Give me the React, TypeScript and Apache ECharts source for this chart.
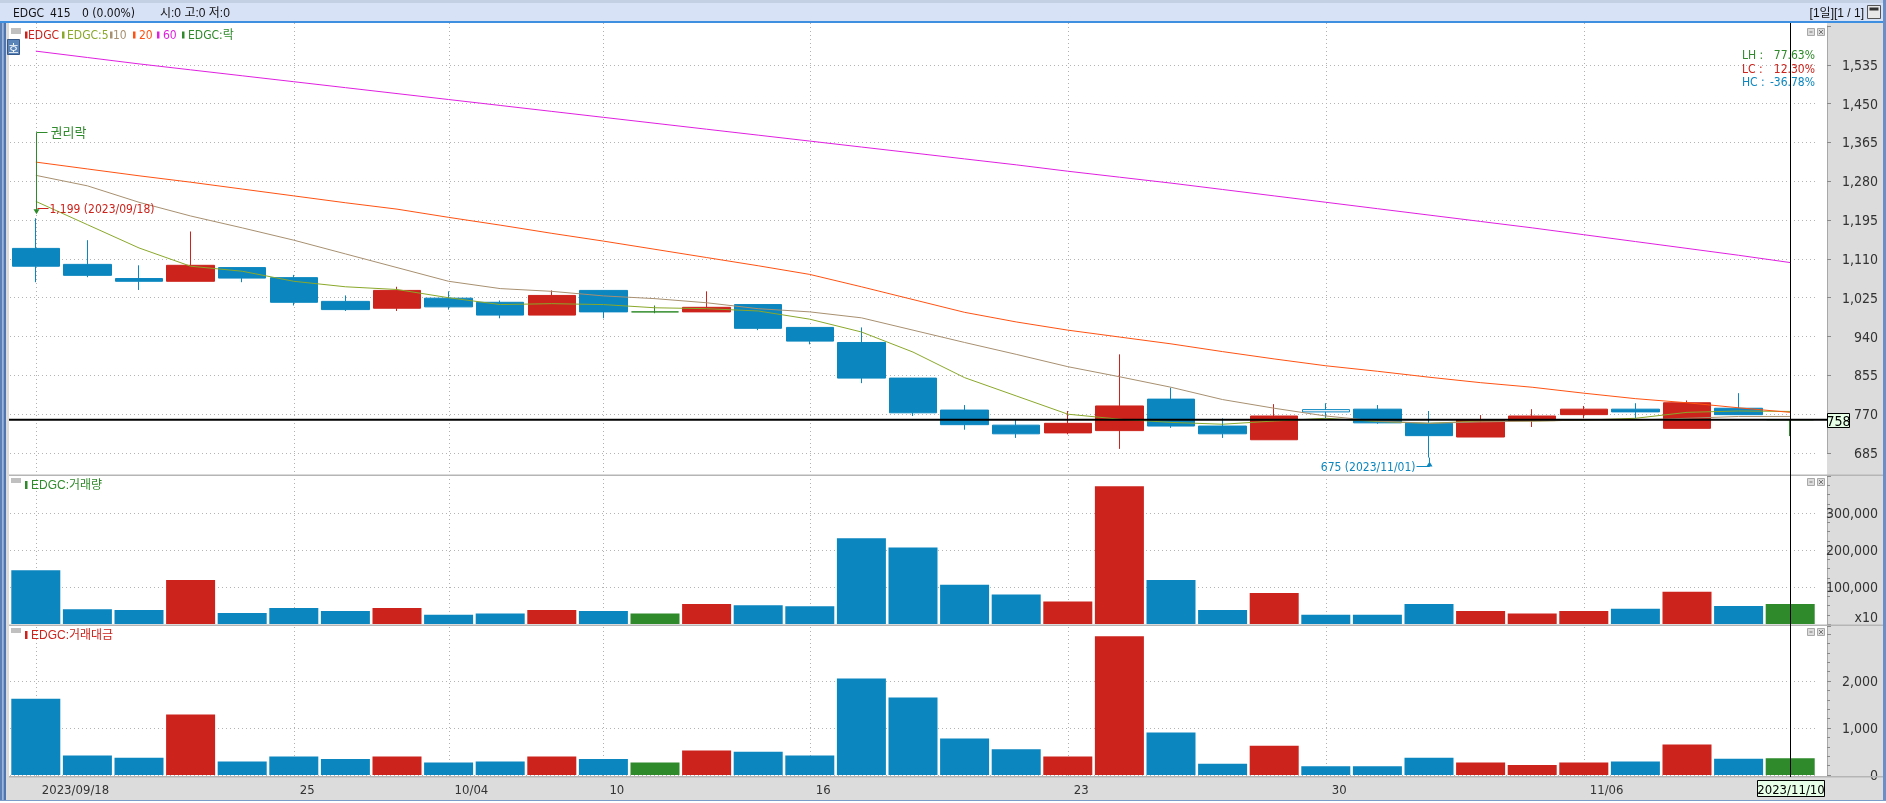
import React, { useEffect, useRef } from 'react';
import * as echarts from 'echarts';

// ---------------- data ----------------
const dates = [
  '2023/09/18', '2023/09/19', '2023/09/20', '2023/09/21', '2023/09/22',
  '2023/09/25', '2023/09/26', '2023/09/27',
  '2023/10/04', '2023/10/05', '2023/10/06',
  '2023/10/10', '2023/10/11', '2023/10/12', '2023/10/13',
  '2023/10/16', '2023/10/17', '2023/10/18', '2023/10/19', '2023/10/20',
  '2023/10/23', '2023/10/24', '2023/10/25', '2023/10/26', '2023/10/27',
  '2023/10/30', '2023/10/31', '2023/11/01', '2023/11/02', '2023/11/03',
  '2023/11/06', '2023/11/07', '2023/11/08', '2023/11/09', '2023/11/10',
];
const opens = [1133, 1098, 1067, 1061, 1091, 1069, 1017, 1002, 1024, 1015, 987, 1041, 994, 994, 1010, 960, 927, 849, 779, 746, 729, 734, 803, 744, 714, 780, 781, 750, 720, 756, 769, 781, 739, 783, 758];
const closes = [1094, 1074, 1061, 1096, 1068, 1015, 999, 1041, 1005, 987, 1030, 994, 994, 1004, 958, 930, 849, 773, 747, 727, 750, 788, 744, 727, 766, 775, 751, 723, 758, 766, 781, 775, 795, 769, 758];
const lows = [1059, 1070, 1042, 1061, 1059, 1008, 996, 996, 999, 980, 987, 980, 991, 994, 954, 923, 838, 766, 736, 718, 726, 694, 740, 718, 714, 761, 749, 675, 720, 742, 761, 761, 739, 769, 722];
const highs = [1199, 1151, 1096, 1170, 1091, 1075, 1030, 1049, 1039, 1019, 1041, 1041, 1008, 1039, 1010, 960, 960, 849, 790, 758, 777, 901, 828, 761, 792, 794, 790, 777, 768, 781, 788, 794, 800, 816, 758];

const ma5 = [1236, 1185, 1134, 1094, 1083, 1061, 1049, 1043, 1025, 1010, 1012, 1010, 1003, 1001, 996, 978, 950, 906, 850, 810, 770, 759, 752, 748, 755, 761, 754, 750, 755, 755, 757, 761, 774, 777, 776];
const ma10 = [1293, 1270, 1234, 1204, 1178, 1151, 1121, 1091, 1061, 1045, 1039, 1029, 1023, 1014, 1001, 994, 981, 954, 927, 901, 874, 852, 829, 802, 783, 766, 755, 750, 753, 755, 757, 757, 761, 765, 765];
const ma20 = [1322, 1307, 1292, 1278, 1263, 1248, 1233, 1219, 1201, 1184, 1166, 1149, 1131, 1113, 1095, 1076, 1049, 1021, 993, 972, 954, 939, 924, 907, 891, 876, 864, 851, 839, 829, 816, 804, 795, 784, 774];
const ma60 = [1565, 1551, 1537, 1524, 1511, 1498, 1485, 1472, 1459, 1446, 1433, 1420, 1407, 1394, 1381, 1368, 1355, 1342, 1329, 1316, 1302, 1289, 1276, 1262, 1248, 1234, 1220, 1206, 1192, 1178, 1163, 1148, 1133, 1118, 1102];

const volumes = [145500, 40000, 37700, 118600, 29600, 43000, 35000, 43000, 25000, 28500, 38000, 35000, 28500, 54000, 51000, 48000, 232000, 207000, 106000, 80000, 61000, 372000, 119000, 38000, 84000, 25000, 25000, 54000, 35000, 28500, 35000, 41500, 87000, 48500, 54000];
const amounts = [1621, 417, 366, 1287, 289, 391, 340, 391, 264, 289, 391, 340, 264, 521, 494, 417, 2055, 1647, 777, 547, 391, 2951, 904, 238, 623, 187, 187, 366, 264, 213, 264, 289, 649, 345, 355];

const tickDates = ['2023/09/18', '2023/09/25', '2023/10/04', '2023/10/10', '2023/10/16', '2023/10/23', '2023/10/30', '2023/11/06'];
const tickLabels = ['2023/09/18', '25', '10/04', '10', '16', '23', '30', '11/06'];
const hollowDates = ['2023/10/30'];
const exRightsDate = '2023/09/18';

// ---------------- styles ----------------
const RED = '#cc231c';
const BLUE = '#0b86bf';
const GREEN = '#2e8a2a';
const C_MA5 = '#8aa82a';
const C_MA10 = '#a89070';
const C_MA20 = '#ff5212';
const C_MA60 = '#e020e0';
const GRIDC = '#b4b4b4';
const FONT = "'Liberation Sans Narrow','DejaVu Sans Condensed','Liberation Sans','Noto Sans CJK KR',sans-serif";
const KFONT = "'Liberation Sans Narrow','Liberation Sans','Noto Sans CJK KR',sans-serif";

const W = 1886;
const H = 803;
const GL = 10;
const GR = 70;
const fmt = (v: number) => v.toLocaleString('en-US');

const dirColor = (i: number) => (closes[i] > opens[i] ? RED : closes[i] < opens[i] ? BLUE : GREEN);

function buildOption(): any {
  const candleData = dates.map((d, i) => {
    const item: any = { value: [opens[i], closes[i], lows[i], highs[i]] };
    if (hollowDates.includes(d)) {
      item.itemStyle = { color: '#ffffff', color0: '#ffffff', borderColor: BLUE, borderColor0: BLUE, borderColorDoji: BLUE };
    } else if (opens[i] === closes[i]) {
      item.itemStyle = { color: GREEN, color0: GREEN, borderColor: GREEN, borderColor0: GREEN, borderColorDoji: GREEN };
    }
    return item;
  });
  const yAxisBase = {
    position: 'right',
    offset: 11,
    axisLine: { show: true, lineStyle: { color: '#a8a8a8', width: 1 } },
    axisTick: { show: true, length: 4, lineStyle: { color: '#8a8a8a' } },
    axisLabel: { align: 'right', margin: 51, fontSize: 14, fontFamily: FONT, color: '#333' },
    splitLine: { show: true, lineStyle: { color: GRIDC, type: [1, 3], width: 1 } },
  };
  const xAxisBase = {
    type: 'category',
    data: dates,
    boundaryGap: true,
    axisLine: { show: false },
    axisTick: { show: false },
    axisLabel: { show: false },
    splitLine: { show: false },
  };
  const lineSeries = (name: string, data: number[], color: string) => ({
    name,
    type: 'line',
    xAxisIndex: 0,
    yAxisIndex: 0,
    data,
    symbol: 'none',
    showSymbol: false,
    lineStyle: { color, width: 1 },
    itemStyle: { color },
    z: 3,
    silent: true,
  });
  return {
    animation: false,
    backgroundColor: 'transparent',
    grid: [
      { left: GL, right: GR, top: 26, height: 427, outerBoundsMode: 'none', containLabel: false },
      { left: GL, right: GR, top: 476, height: 148, outerBoundsMode: 'none', containLabel: false },
      { left: GL, right: GR, top: 626, height: 149, outerBoundsMode: 'none', containLabel: false },
    ],
    xAxis: [
      { ...xAxisBase, gridIndex: 0 },
      { ...xAxisBase, gridIndex: 1 },
      {
        ...xAxisBase,
        gridIndex: 2,
        axisLabel: {
          show: true,
          interval: (_i: number, v: string) => tickDates.includes(v),
          formatter: (v: string) => {
            const k = tickDates.indexOf(v);
            return k >= 0 ? tickLabels[k] : '';
          },
          align: 'left',
          padding: [0, 0, 0, 6],
          margin: 8,
          fontSize: 13,
          fontFamily: FONT,
          color: '#333',
        },
      },
    ],
    yAxis: [
      {
        ...yAxisBase,
        type: 'value',
        gridIndex: 0,
        min: 685,
        max: 1620,
        interval: 85,
        splitLine: { show: true, showMaxLine: false, lineStyle: { color: GRIDC, type: [1, 3], width: 1 } },
        axisLabel: { ...yAxisBase.axisLabel, formatter: (v: number) => (v > 1600 ? '' : fmt(v)) },
      },
      {
        ...yAxisBase,
        type: 'value',
        gridIndex: 1,
        min: 0,
        max: 400000,
        interval: 100000,
        splitLine: { show: true, showMinLine: false, showMaxLine: false, lineStyle: { color: GRIDC, type: [1, 3], width: 1 } },
        minorTick: { show: true, splitNumber: 4, length: 3, lineStyle: { color: '#8a8a8a' } },
        axisLabel: { ...yAxisBase.axisLabel, formatter: (v: number) => (v <= 0 || v >= 400000 ? '' : fmt(v)) },
      },
      {
        ...yAxisBase,
        type: 'value',
        gridIndex: 2,
        min: 0,
        max: 3170,
        interval: 1000,
        splitLine: {
          show: true,
          showMinLine: true,
          showMaxLine: false,
          lineStyle: { color: [GRIDC, GRIDC, GRIDC, 'rgba(0,0,0,0)', 'rgba(0,0,0,0)'], type: [1, 3], width: 1 },
        },
        minorTick: { show: true, splitNumber: 5, length: 3, lineStyle: { color: '#8a8a8a' } },
        axisLabel: { ...yAxisBase.axisLabel, formatter: (v: number) => (v > 2000 ? '' : fmt(v)) },
      },
    ],
    series: [
      {
        name: 'EDGC',
        type: 'candlestick',
        xAxisIndex: 0,
        yAxisIndex: 0,
        data: candleData,
        barWidth: 48,
        clip: false,
        silent: true,
        itemStyle: { color: RED, color0: BLUE, borderColor: RED, borderColor0: BLUE, borderWidth: 1 },
        z: 2,
      },
      lineSeries('EDGC:5', ma5, C_MA5),
      lineSeries('10', ma10, C_MA10),
      lineSeries('20', ma20, C_MA20),
      lineSeries('60', ma60, C_MA60),
      {
        name: 'EDGC:거래량',
        type: 'bar',
        xAxisIndex: 1,
        yAxisIndex: 1,
        barWidth: 49,
        silent: true,
        data: volumes.map((v, i) => ({ value: v, itemStyle: { color: dirColor(i) } })),
      },
      {
        name: 'EDGC:거래대금',
        type: 'bar',
        xAxisIndex: 2,
        yAxisIndex: 2,
        barWidth: 49,
        silent: true,
        data: amounts.map((v, i) => ({ value: v, itemStyle: { color: dirColor(i) } })),
      },
    ],
  };
}

const rect = (x: number, y: number, w: number, h: number, fill: string, z = -10, stroke?: string) => ({
  type: 'rect',
  silent: true,
  z,
  shape: { x, y, width: w, height: h },
  style: stroke ? { fill, stroke, lineWidth: 1 } : { fill },
});
const line = (x1: number, y1: number, x2: number, y2: number, stroke: string, z = 40, dash?: number[], lw = 1) => ({
  type: 'line',
  silent: true,
  z,
  shape: { x1, y1, x2, y2 },
  style: dash ? { stroke, lineWidth: lw, lineDash: dash } : { stroke, lineWidth: lw },
});
const text = (x: number, y: number, t: string, fill: string, size = 12, align = 'left', family = FONT, z = 45) => ({
  type: 'text',
  silent: true,
  z,
  x,
  y,
  style: {
    text: t,
    fill,
    font: `${size}px ${family}`,
    align,
    textAlign: align,
    verticalAlign: 'middle',
    textVerticalAlign: 'middle',
  },
});
const tri = (pts: number[][], fill: string) => ({
  type: 'polygon',
  silent: true,
  z: 45,
  shape: { points: pts },
  style: { fill },
});

export default function App() {
  const ref = useRef<HTMLDivElement>(null);
  useEffect(() => {
    if (!ref.current) return;
    const chart = echarts.init(ref.current, null, { renderer: 'svg', width: W, height: H });
    chart.setOption(buildOption());

    const px = (g: number, i: number, v: number) => chart.convertToPixel({ gridIndex: g }, [i, v]) as number[];
    const els: any[] = [];

    // ---- chrome / backgrounds ----
    els.push(rect(0, 0, W, H, '#eeeeee', -20));
    els.push(rect(0, 0, W, 3, '#c3cfe2', -19));
    els.push(rect(0, 3, W, 19, '#d8e2f7', -19));
    els.push(rect(0, 21, W, 2, '#3f8fe0', -19));
    els.push(rect(0, 23, 2, 777, '#5b80b6', -19));
    els.push(rect(2, 23, 1.5, 777, '#9ab6de', -19));
    els.push(rect(3.5, 23, 2.5, 777, '#4f76b0', -19));
    els.push(rect(6, 23, 3, 777, '#dcdcdc', -19));
    els.push(rect(9, 23, 1818, 754, '#ffffff', -18));
    els.push(rect(1827, 23, 56, 777, '#dcdcdc', -18));
    els.push(rect(1883, 0, 3, H, '#6a8fc8', -17));
    els.push(rect(9, 777, 1818, 23, '#dcdcdc', -18));
    els.push(rect(0, 800, W, 3, '#ffffff', -17));
    els.push(rect(0, 800, W, 1, '#7a9cc8', -16));
    // pane separators
    els.push(rect(9, 474.5, 1874, 1.5, '#b5b5b5', 20));
    els.push(rect(9, 624.5, 1874, 1.5, '#b5b5b5', 20));
    els.push(rect(9, 776, 1874, 1.5, '#b5b5b5', 20));

    // title bar
    els.push(text(13, 12.5, 'EDGC', '#111', 12));
    els.push(text(50, 12.5, '415', '#111', 12));
    els.push(text(82, 12.5, '0 (0.00%)', '#111', 12));
    els.push(text(160, 12.5, '시:0 고:0 저:0', '#111', 12, 'left', KFONT));
    els.push(text(1864, 12.5, '[1일][1 / 1]', '#111', 12, 'right', KFONT));
    els.push(rect(1867.5, 5.5, 13, 13, '#e8e8e8', 30, '#555555'));
    els.push(rect(1869.5, 7.5, 9, 3, '#333333', 31));

    // legend (price pane)
    els.push(rect(11, 28, 10, 6, '#c0c0c0', 30));
    const leg: [number, number, string, string][] = [
      [25, 28, 'EDGC', RED],
      [62, 67, 'EDGC:5', C_MA5],
      [110, 113, '10', C_MA10],
      [133, 139, '20', C_MA20],
      [157, 163, '60', C_MA60],
      [182, 188, 'EDGC:락', GREEN],
    ];
    leg.forEach(([bx, tx, t, c]) => {
      els.push(rect(bx, 31.5, 2.5, 7, c, 30));
      els.push(text(tx, 35, t, c, 12));
    });
    // 호 button
    els.push(rect(7.5, 39.5, 12, 15, '#5b85b8', 30, '#34598a'));
    els.push(text(13.5, 47.5, '호', '#ffffff', 11, 'center', "'Noto Sans CJK KR',sans-serif", 31));

    // volume / amount legends
    els.push(rect(11, 478, 10, 5, '#c0c0c0', 30));
    els.push(rect(25, 481, 2.5, 8, GREEN, 30));
    els.push(text(31, 485, 'EDGC:거래량', GREEN, 12, 'left', KFONT));
    els.push(rect(11, 628, 10, 5, '#c0c0c0', 30));
    els.push(rect(25, 631, 2.5, 8, RED, 30));
    els.push(text(31, 635, 'EDGC:거래대금', RED, 12, 'left', KFONT));
    els.push(text(1878, 617, 'x10', '#333', 14, 'right'));

    // pane window icons
    [28.5, 478.5, 628.5].forEach((y) => {
      els.push(rect(1807.5, y, 7, 7, '#dcdcdc', 30, '#a8a8a8'));
      els.push(rect(1809.5, y + 3, 3, 1, '#777777', 31));
      els.push(rect(1817.5, y, 7, 7, '#dcdcdc', 30, '#a8a8a8'));
      els.push(line(1819, y + 1.5, 1823, y + 5.5, '#777777', 31));
      els.push(line(1823, y + 1.5, 1819, y + 5.5, '#777777', 31));
    });

    // vertical dotted grid lines at tick dates
    tickDates.forEach((d) => {
      const i = dates.indexOf(d);
      const x = Math.round(px(0, i, 1000)[0]) + 0.5;
      els.push(line(x, 23, x, 776, '#b0b0b0', -5, [1, 3]));
    });

    // crosshair at last bar / last close
    const last = dates.length - 1;
    const lastClose = closes[last];
    const [cx, cy] = px(0, last, lastClose);
    const xr = Math.round(cx) + 0.5;
    els.push(line(xr, 23, xr, 777, '#000000', 50));
    els.push(line(9, cy, 1827, cy, '#000000', 50, undefined, 2));
    const yr = Math.round(cy) + 0.5;
    els.push(rect(1827.5, yr - 7, 22, 14, '#e6ffe6', 60, '#000000'));
    els.push(text(1838.5, yr, String(lastClose), '#000', 14, 'center', FONT, 61));
    els.push(rect(xr - 33, 780.5, 67, 16, '#e6ffe6', 60, '#000000'));
    els.push(text(xr + 0.5, 789, dates[last], '#000', 13, 'center', FONT, 61));

    // high / low / ex-rights annotations
    let hiIdx = 0;
    let loIdx = 0;
    highs.forEach((v, i) => { if (v > highs[hiIdx]) hiIdx = i; });
    lows.forEach((v, i) => { if (v < lows[loIdx]) loIdx = i; });
    const maxH = highs[hiIdx];
    const minL = lows[loIdx];

    const exIdx = dates.indexOf(exRightsDate);
    const [exX0, exY0] = px(0, exIdx, highs[exIdx]);
    const exX = Math.round(exX0) + 0.5;
    const arrowB = exY0 - 4;
    const exTop = Math.round(arrowB - 82) + 0.5;
    els.push(line(exX, exTop, exX, arrowB - 4, GREEN, 46));
    els.push(line(exX, exTop, exX + 11, exTop, GREEN, 46));
    els.push(tri([[exX - 3, arrowB - 5], [exX + 3, arrowB - 5], [exX, arrowB]], GREEN));
    els.push(text(exX + 14, exTop, '권리락', GREEN, 13, 'left', KFONT));

    const [hx0, hy] = px(0, hiIdx, maxH);
    const hx = Math.round(hx0) + 0.5;
    const hly = Math.round(hy - 10) + 0.5;
    els.push(line(hx + 1, hly, hx + 12, hly, RED, 46));
    els.push(text(hx + 13, hly, `${fmt(maxH)} (${dates[hiIdx]})`, RED, 12));

    const [lx0, ly] = px(0, loIdx, minL);
    const lx = Math.round(lx0) + 0.5;
    const lly = Math.round(ly + 8) + 0.5;
    els.push(line(lx, ly, lx, lly, BLUE, 46));
    els.push(line(lx - 13, lly, lx, lly, BLUE, 46));
    els.push(tri([[lx - 3, lly], [lx + 3, lly], [lx, lly - 5]], BLUE));
    els.push(text(lx - 14, lly, `${fmt(minL)} (${dates[loIdx]})`, BLUE, 12, 'right'));

    // LH / LC / HC
    const lh = ((maxH - minL) / minL) * 100;
    const lc = ((lastClose - minL) / minL) * 100;
    const hc = ((lastClose - maxH) / maxH) * 100;
    const rows: [string, number, string, number][] = [
      ['LH :', lh, GREEN, 55],
      ['LC :', lc, RED, 68.5],
      ['HC :', hc, BLUE, 82],
    ];
    rows.forEach(([k, v, c, y]) => {
      els.push(text(1742, y, k, c, 12));
      els.push(text(1815, y, `${v.toFixed(2)}%`, c, 12, 'right'));
    });

    chart.setOption({ graphic: { elements: els } });
    return () => chart.dispose();
  }, []);
  return <div ref={ref} style={{ position: 'fixed', left: 0, top: 0, width: W, height: H }} />;
}
